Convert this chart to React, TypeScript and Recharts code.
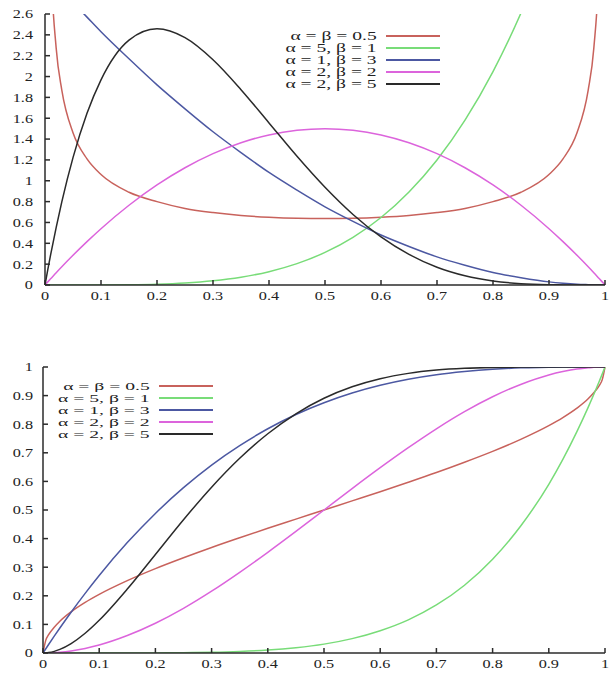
import { LineChart, Line, XAxis, YAxis, Legend } from "recharts";

// sample positions along x (denser near the ends where the curves bend hard)
const xs = [
  0, 0.005, 0.01, 0.02, 0.03, 0.05, 0.075, 0.1, 0.15, 0.2, 0.25, 0.3, 0.35, 0.4, 0.45, 0.5,
  0.55, 0.6, 0.65, 0.7, 0.75, 0.8, 0.85, 0.9, 0.925, 0.95, 0.97, 0.98, 0.99, 0.995, 1,
];

// density curves
const pdfHalf = [
  null, 4.51, 3.2, 2.27, 1.87, 1.46, 1.21, 1.06, 0.89, 0.8, 0.735, 0.695, 0.667, 0.65, 0.64, 0.637,
  0.64, 0.65, 0.667, 0.695, 0.735, 0.8, 0.89, 1.06, 1.21, 1.46, 1.87, 2.27, 3.2, 4.51, null,
];
const pdf51 = [
  0, 0, 0, 0, 0, 0, 0.0002, 0.0005, 0.0025, 0.008, 0.0195, 0.0405, 0.075, 0.128, 0.205, 0.3125,
  0.4575, 0.648, 0.893, 1.2, 1.582, 2.048, 2.61, 3.28, 3.66, 4.07, 4.43, 4.61, 4.8, 4.9, 5,
];
const pdf13 = [
  3, 2.97, 2.94, 2.88, 2.82, 2.71, 2.57, 2.43, 2.17, 1.92, 1.69, 1.47, 1.27, 1.08, 0.91, 0.75,
  0.61, 0.48, 0.37, 0.27, 0.19, 0.12, 0.07, 0.03, 0.017, 0.0075, 0.003, 0.001, 0.0003, 0, 0,
];
const pdf22 = [
  0, 0.03, 0.059, 0.118, 0.175, 0.285, 0.416, 0.54, 0.765, 0.96, 1.125, 1.26, 1.365, 1.44, 1.485, 1.5,
  1.485, 1.44, 1.365, 1.26, 1.125, 0.96, 0.765, 0.54, 0.416, 0.285, 0.175, 0.118, 0.059, 0.03, 0,
];
const pdf25 = [
  0, 0.147, 0.288, 0.553, 0.797, 1.222, 1.647, 1.968, 2.349, 2.458, 2.373, 2.161, 1.874, 1.555, 1.235, 0.938,
  0.677, 0.461, 0.293, 0.17, 0.088, 0.038, 0.013, 0.003, 0.001, 0, 0, 0, 0, 0, 0,
];

// cumulative curves
const cdfHalf = [
  0, 0.045, 0.064, 0.09, 0.111, 0.144, 0.177, 0.205, 0.253, 0.295, 0.333, 0.369, 0.403, 0.436, 0.468, 0.5,
  0.532, 0.564, 0.597, 0.631, 0.667, 0.705, 0.747, 0.795, 0.823, 0.856, 0.889, 0.91, 0.936, 0.955, 1,
];
const cdf51 = [
  0, 0, 0, 0, 0, 0, 0, 0, 0.0001, 0.0003, 0.001, 0.0024, 0.0053, 0.0102, 0.0185, 0.031,
  0.0503, 0.078, 0.116, 0.168, 0.237, 0.328, 0.444, 0.59, 0.677, 0.774, 0.859, 0.904, 0.951, 0.975, 1,
];
const cdf13 = [
  0, 0.0149, 0.0297, 0.0588, 0.0873, 0.1426, 0.2085, 0.271, 0.386, 0.488, 0.578, 0.657, 0.725, 0.784, 0.834, 0.875,
  0.909, 0.936, 0.957, 0.973, 0.984, 0.992, 0.997, 0.999, 1, 1, 1, 1, 1, 1, 1,
];
const cdf22 = [
  0, 0.0001, 0.0003, 0.0012, 0.0027, 0.0073, 0.016, 0.028, 0.061, 0.104, 0.156, 0.216, 0.282, 0.352, 0.425, 0.5,
  0.575, 0.648, 0.718, 0.784, 0.844, 0.896, 0.939, 0.972, 0.984, 0.993, 0.997, 0.999, 1, 1, 1,
];
const cdf25 = [
  0, 0.0004, 0.0015, 0.0057, 0.0125, 0.0328, 0.0689, 0.1143, 0.2235, 0.3446, 0.4661, 0.5798, 0.6809, 0.7667, 0.8364, 0.8906,
  0.9308, 0.959, 0.9777, 0.9891, 0.9954, 0.9984, 0.9996, 0.9999, 1, 1, 1, 1, 1, 1, 1,
];

const seriesNames = ["α = β = 0.5", "α = 5, β = 1", "α = 1, β = 3", "α = 2, β = 2", "α = 2, β = 5"];
const seriesKeys = ["s1", "s2", "s3", "s4", "s5"];
const colors = ["#c8625c", "#78dc78", "#4c58a2", "#dc64dc", "#2a2a2a"];

const xTicks = [0, 0.1, 0.2, 0.3, 0.4, 0.5, 0.6, 0.7, 0.8, 0.9, 1];
const pdfTicks = [0, 0.2, 0.4, 0.6, 0.8, 1, 1.2, 1.4, 1.6, 1.8, 2, 2.2, 2.4, 2.6];
const cdfTicks = [0, 0.1, 0.2, 0.3, 0.4, 0.5, 0.6, 0.7, 0.8, 0.9, 1];

const pdfRows = xs.map((x, i) => ({
  x,
  s1: pdfHalf[i],
  s2: pdf51[i],
  s3: pdf13[i],
  s4: pdf22[i],
  s5: pdf25[i],
}));
const cdfRows = xs.map((x, i) => ({
  x,
  s1: cdfHalf[i],
  s2: cdf51[i],
  s3: cdf13[i],
  s4: cdf22[i],
  s5: cdf25[i],
}));

const FONT = "'Liberation Serif', 'Times New Roman', serif";
const frame = { stroke: "#2b2b2b", strokeWidth: 1.5 };
const blank = () => "";

// gnuplot-style labels: slightly stretched serif digits
function WideTick(props: any) {
  const { x, y, payload, textAnchor, verticalAnchor } = props;
  const dy = verticalAnchor === "start" ? "0.71em" : "0.35em";
  return (
    <text
      transform={`translate(${x},${y}) scale(1.3,1)`}
      textAnchor={textAnchor}
      dy={dy}
      fontFamily={FONT}
      fontSize={12.5}
      fill="#222"
    >
      {String(payload.value)}
    </text>
  );
}

function KeyBox({ textWidth, rowHeight, fontSize, stretch }: { textWidth: number; rowHeight: number; fontSize: number; stretch: number }) {
  return (
    <div style={{ fontFamily: FONT, fontSize, color: "#222" }}>
      {seriesNames.map((name, i) => (
        <div
          key={name}
          style={{ display: "flex", alignItems: "center", height: rowHeight, lineHeight: `${rowHeight}px` }}
        >
          <span style={{ width: textWidth, textAlign: "right", whiteSpace: "nowrap" }}>
            <span style={{ display: "inline-block", transform: `scaleX(${stretch})`, transformOrigin: "right center" }}>
              {name}
            </span>
          </span>
          <span style={{ marginLeft: 9, width: 54, height: 1.2, background: colors[i] }} />
        </div>
      ))}
    </div>
  );
}

function BetaPanel({
  rows,
  yTicks,
  yMax,
  height,
  margin,
  axisHeight,
  yWidth,
  yMargin,
  legendPos,
  legendText,
  legendRow,
  legendFont,
  legendStretch,
}: {
  rows: any[];
  yTicks: number[];
  yMax: number;
  height: number;
  margin: { top: number; right: number; left: number; bottom: number };
  axisHeight: number;
  yWidth: number;
  yMargin: number;
  legendPos: { left: number; top: number };
  legendText: number;
  legendRow: number;
  legendFont: number;
  legendStretch: number;
}) {
  return (
    <LineChart width={609} height={height} data={rows} margin={margin}>
      <XAxis
        dataKey="x"
        type="number"
        domain={[0, 1]}
        ticks={xTicks}
        height={axisHeight}
        tickSize={-5}
        tickMargin={11}
        axisLine={frame}
        tickLine={frame}
        tick={<WideTick />}
        interval={0}
      />
      <XAxis
        xAxisId="top"
        orientation="top"
        dataKey="x"
        type="number"
        domain={[0, 1]}
        ticks={xTicks}
        height={0}
        tickSize={-5}
        axisLine={frame}
        tickLine={frame}
        tickFormatter={blank}
      />
      <YAxis
        type="number"
        domain={[0, yMax]}
        allowDataOverflow
        ticks={yTicks}
        width={yWidth}
        tickSize={-5}
        tickMargin={yMargin}
        axisLine={frame}
        tickLine={frame}
        tick={<WideTick />}
        interval={0}
      />
      <YAxis
        yAxisId="right"
        orientation="right"
        type="number"
        domain={[0, yMax]}
        allowDataOverflow
        ticks={yTicks}
        width={0}
        tickSize={-5}
        axisLine={frame}
        tickLine={frame}
        tickFormatter={blank}
      />
      <Legend
        layout="vertical"
        align="center"
        verticalAlign="middle"
        wrapperStyle={{ left: legendPos.left, top: legendPos.top, width: "auto" }}
        content={() => (
          <KeyBox textWidth={legendText} rowHeight={legendRow} fontSize={legendFont} stretch={legendStretch} />
        )}
      />
      {seriesKeys.map((k, i) => (
        <Line
          key={k}
          dataKey={k}
          name={seriesNames[i]}
          type="monotone"
          stroke={colors[i]}
          strokeWidth={1.5}
          dot={false}
          isAnimationActive={false}
        />
      ))}
    </LineChart>
  );
}

export default function App() {
  return (
    <div style={{ position: "absolute", left: 0, top: 0, width: 609, height: 675, background: "#fff" }}>
      <div style={{ position: "absolute", left: 0, top: 0 }}>
        <BetaPanel
          rows={pdfRows}
          yTicks={pdfTicks}
          yMax={2.6}
          height={310}
          margin={{ top: 14, right: 4, left: 0, bottom: 0 }}
          axisHeight={25}
          yWidth={45}
          yMargin={17}
          legendPos={{ left: 280, top: 30 }}
          legendText={97}
          legendRow={12}
          legendFont={11.5}
          legendStretch={1.7}
        />
      </div>
      <div style={{ position: "absolute", left: 0, top: 340 }}>
        <BetaPanel
          rows={cdfRows}
          yTicks={cdfTicks}
          yMax={1}
          height={335}
          margin={{ top: 27, right: 4, left: 0, bottom: 0 }}
          axisHeight={22}
          yWidth={43}
          yMargin={15}
          legendPos={{ left: 50, top: 40 }}
          legendText={100}
          legendRow={12}
          legendFont={11.3}
          legendStretch={1.74}
        />
      </div>
    </div>
  );
}
